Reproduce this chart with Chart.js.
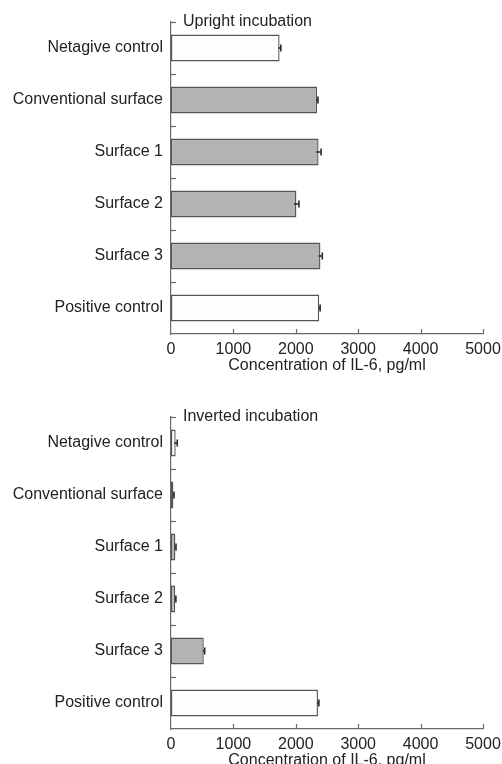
<!DOCTYPE html>
<html>
<head>
<meta charset="utf-8">
<script src="https://cdn.jsdelivr.net/npm/chart.js@4.4.1/dist/chart.umd.min.js"></script>
<style>
  html, body { margin: 0; padding: 0; background: #ffffff; width: 502px; height: 764px; overflow: hidden; position: relative; }
  .box { position: absolute; left: 0; width: 502px; height: 382px; }
  #box1 { top: 0px; }
  #box2 { top: 395px; }
</style>
</head>
<body>
<div class="box" id="box1"><canvas id="c1"></canvas></div>
<div class="box" id="box2"><canvas id="c2"></canvas></div>
<script>
const categories = ['Netagive control', 'Conventional surface', 'Surface 1', 'Surface 2', 'Surface 3', 'Positive control'];
const barKinds = ['control', 'surface', 'surface', 'surface', 'surface', 'control'];
const uprightValues = [1740, 2340, 2365, 2010, 2395, 2375];
const uprightErrors = [20, 15, 40, 40, 30, 15];
const invertedValues = [75, 38, 70, 68, 525, 2355];
const invertedErrors = [25, 10, 10, 10, 15, 15];
const xTickValues = [0, 1000, 2000, 3000, 4000, 5000];
const panelTitles = ['Upright incubation', 'Inverted incubation'];
const xAxisTitle = 'Concentration of IL-6, pg/ml';

const FONT = "'Liberation Sans', Arial, sans-serif";
const FS = 16;
Chart.defaults.font.family = FONT;
Chart.defaults.font.size = FS;
Chart.defaults.color = '#222';

const kindFill = { control: '#fdfdfc', surface: '#b3b3b1' };
const AXIS = '#6a6a6a';

const decor = {
  id: 'decor',
  afterDatasetsDraw(chart, args, opts) {
    const ctx = chart.ctx;
    const xs = chart.scales.x, ys = chart.scales.y;
    const vals = chart.data.datasets[0].data;
    const errs = opts.errors;
    ctx.save();
    ctx.strokeStyle = '#2a2a2a';
    ctx.lineWidth = 1.6;
    for (let i = 0; i < vals.length; i++) {
      const y = ys.getPixelForValue(i);
      const x0 = xs.getPixelForValue(vals[i] - errs[i]);
      const x1 = xs.getPixelForValue(vals[i] + errs[i]);
      ctx.beginPath();
      ctx.moveTo(x0, y); ctx.lineTo(x1, y);
      ctx.moveTo(x1, y - 3.5); ctx.lineTo(x1, y + 3.5);
      ctx.stroke();
    }
    ctx.restore();
  },
  afterDraw(chart, args, opts) {
    const ctx = chart.ctx;
    const xs = chart.scales.x, ys = chart.scales.y;
    const area = chart.chartArea;
    ctx.save();
    ctx.strokeStyle = AXIS;
    ctx.lineWidth = 1.2;
    for (let i = 0; i < categories.length; i++) {
      const y = Math.round(ys.getPixelForValue(i - 0.5)) + 0.5;
      ctx.beginPath();
      ctx.moveTo(area.left, y); ctx.lineTo(area.left + 5, y);
      ctx.stroke();
    }
    xTickValues.forEach(v => {
      if (v === 0) return;
      const x = Math.round(xs.getPixelForValue(v)) + 0.5;
      ctx.beginPath();
      ctx.moveTo(x, area.bottom); ctx.lineTo(x, area.bottom - 5);
      ctx.stroke();
    });
    ctx.fillStyle = '#222';
    ctx.font = FS + 'px ' + FONT;
    ctx.textAlign = 'left';
    ctx.textBaseline = 'middle';
    ctx.fillText(opts.label, area.left + 12, area.top);
    ctx.restore();
  }
};

function makeChart(id, values, errors, label) {
  return new Chart(document.getElementById(id), {
    type: 'bar',
    data: {
      labels: categories,
      datasets: [{
        data: values,
        backgroundColor: barKinds.map(k => kindFill[k]),
        borderColor: '#555555',
        borderWidth: 1.4,
        borderSkipped: false,
        barPercentage: 0.52,
        categoryPercentage: 1.0
      }]
    },
    options: {
      indexAxis: 'y',
      responsive: true,
      maintainAspectRatio: false,
      animation: false,
      layout: { padding: { top: 22, right: 19, left: 0, bottom: 0 } },
      plugins: {
        legend: { display: false },
        tooltip: { enabled: false },
        decor: { errors: errors, label: label }
      },
      scales: {
        x: {
          min: 0, max: 5000,
          afterBuildTicks: s => { s.ticks = xTickValues.map(v => ({ value: v })); },
          ticks: { padding: -2, color: '#222', font: { size: FS }, callback: v => String(v) },
          grid: { display: false },
          border: { display: true, color: AXIS, width: 1.2 },
          title: { display: true, text: xAxisTitle, color: '#222', font: { size: FS }, padding: { top: 0, bottom: 7 } },
          afterFit: s => { s.height = 48; }
        },
        y: {
          ticks: { padding: 0, color: '#222', font: { size: FS } },
          grid: { display: false },
          border: { display: true, color: AXIS, width: 1.2 },
          afterFit: s => { s.width = 171; }
        }
      }
    },
    plugins: [decor]
  });
}

makeChart('c1', uprightValues, uprightErrors, panelTitles[0]);
makeChart('c2', invertedValues, invertedErrors, panelTitles[1]);
</script>
</body>
</html>
